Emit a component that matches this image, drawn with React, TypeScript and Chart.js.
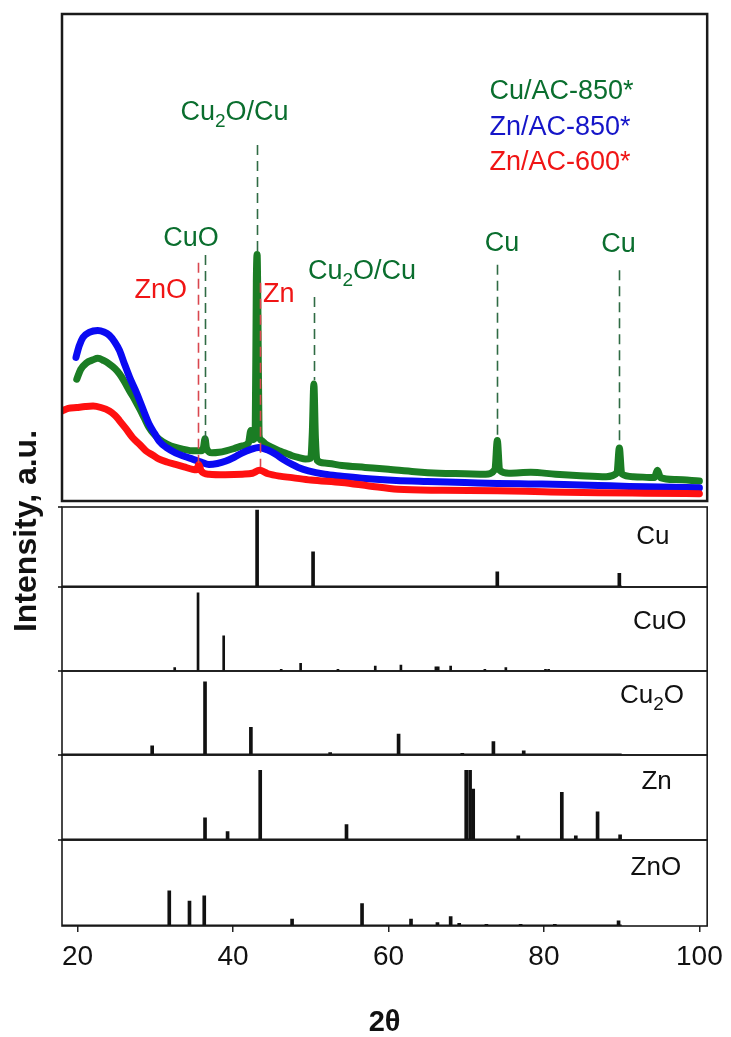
import React, { useEffect, useRef } from 'react';
import { Chart, registerables } from 'chart.js';

Chart.register(...registerables);

const FONT = '"Liberation Sans", Arial, Helvetica, sans-serif';

// ---------- Measured XRD patterns (top panel), [2θ, intensity a.u.] ----------
const cuAC850: [number, number][] = [
  [19.9, 25.0], [20.4, 27.0], [21.1, 28.3], [22.0, 29.0], [22.6, 29.3], [23.4, 28.8], [24.1, 28.1],
  [24.8, 27.2], [25.4, 26.1], [26.0, 24.6], [26.7, 22.6], [27.4, 20.7], [28.0, 18.9], [28.6, 17.0],
  [29.2, 15.1], [29.8, 13.8], [30.5, 12.7], [31.5, 11.7], [32.6, 11.0], [33.7, 10.6], [34.8, 10.3],
  [35.9, 10.3], [36.2, 11.0], [36.4, 12.8], [36.6, 10.8], [37.3, 9.9], [38.2, 10.0], [39.1, 10.3],
  [40.2, 10.8], [41.2, 11.3], [42.0, 12.0], [42.3, 14.5], [42.55, 12.6], [42.85, 13.2], [43.0, 45.0],
  [43.1, 50.6], [43.2, 40.0], [43.35, 13.5], [43.6, 12.5], [44.2, 11.7], [45.0, 11.0], [45.9, 10.3],
  [46.8, 9.8], [47.6, 9.3], [48.5, 8.9], [49.3, 8.6], [50.0, 8.8], [50.2, 14.0], [50.4, 24.0],
  [50.6, 13.0], [50.8, 8.4], [51.8, 7.8], [54.0, 7.3], [57.0, 6.9], [60.0, 6.5], [63.4, 6.0],
  [66.5, 5.7], [69.8, 5.6], [72.5, 5.5], [73.7, 6.5], [74.0, 12.4], [74.3, 6.3], [75.5, 5.7],
  [78.3, 5.9], [81.5, 5.5], [84.7, 5.2], [88.0, 5.0], [89.4, 5.8], [89.7, 10.9], [90.0, 5.6],
  [91.5, 5.0], [94.2, 4.8], [94.6, 6.3], [95.0, 4.8], [97.0, 4.4], [100.0, 4.1],
];

const znAC850: [number, number][] = [
  [19.8, 29.5], [20.2, 31.8], [20.7, 33.6], [21.5, 34.6], [22.6, 35.0], [23.4, 34.7], [24.1, 34.0],
  [24.8, 32.6], [25.4, 30.9], [26.0, 28.3], [26.7, 25.4], [27.4, 22.9], [28.0, 20.6], [28.6, 18.1],
  [29.2, 15.8], [29.9, 13.9], [30.5, 12.3], [31.5, 10.9], [32.6, 9.9], [33.7, 9.2], [34.8, 8.6],
  [35.9, 8.0], [36.9, 7.5], [38.0, 7.7], [39.1, 8.2], [40.2, 9.0], [41.2, 9.9], [42.3, 10.6],
  [43.3, 11.0], [44.4, 10.5], [45.5, 9.6], [46.5, 8.5], [47.6, 7.5], [48.4, 6.9], [49.7, 6.2],
  [51.8, 5.5], [54.0, 5.1], [57.0, 4.6], [61.0, 4.2], [65.0, 4.0], [69.8, 3.8], [74.0, 3.6],
  [78.0, 3.5], [82.6, 3.4], [87.0, 3.2], [91.0, 3.0], [95.0, 2.9], [100.0, 2.7],
];

const znAC600: [number, number][] = [
  [18.0, 18.5], [18.8, 19.0], [19.9, 19.2], [21.0, 19.4], [22.0, 19.5], [23.0, 19.2], [24.1, 18.5],
  [24.8, 17.6], [25.4, 16.5], [26.2, 14.9], [27.1, 13.0], [28.0, 11.6], [28.8, 10.3], [29.7, 9.4],
  [30.5, 8.6], [31.5, 8.0], [32.6, 7.5], [33.7, 7.0], [34.8, 6.5], [35.3, 6.4], [35.6, 7.5],
  [35.9, 6.2], [36.9, 5.5], [39.0, 5.4], [41.2, 5.5], [42.5, 5.7], [43.4, 6.3], [44.5, 5.6],
  [46.0, 5.1], [47.6, 4.8], [50.0, 4.3], [54.0, 3.8], [57.5, 3.1], [61.2, 2.4], [67.0, 2.2],
  [74.0, 2.1], [80.0, 1.9], [87.0, 1.7], [93.0, 1.6], [100.0, 1.5],
];

const sampleNames = ['Cu/AC-850*', 'Zn/AC-850*', 'Zn/AC-600*'];

// ---------- Reference patterns (lower panels): 2θ positions and relative intensities ----------
const refNames = ['Cu', 'CuO', 'Cu2O', 'Zn', 'ZnO'];
const cuPos = [43.1, 50.3, 74.0, 89.7];
const cuInt = [96, 44, 19, 17];
const cuoPos = [32.5, 35.5, 38.8, 46.2, 48.7, 53.5, 58.3, 61.6, 66.1, 66.4, 68.0, 72.4, 75.1, 80.2, 80.6];
const cuoInt = [4, 93, 42, 2, 9, 2, 6, 7, 5, 5, 6, 2, 4, 2, 2];
const cu2oPos = [29.6, 36.4, 42.3, 52.5, 61.3, 69.5, 73.5, 77.4];
const cu2oInt = [11, 87, 33, 3, 25, 2, 16, 5];
const znPos = [36.4, 39.3, 43.5, 54.6, 70.0, 70.5, 70.9, 76.7, 82.3, 84.1, 86.9, 89.8];
const znInt = [26, 10, 82, 18, 82, 82, 60, 5, 56, 5, 33, 6];
const znoPos = [31.8, 34.4, 36.3, 47.6, 56.6, 62.9, 66.3, 68.0, 69.1, 72.6, 77.0, 81.4, 89.6];
const znoInt = [41, 29, 35, 8, 26, 8, 4, 11, 3, 2, 2, 2, 6];
const refBaseRange = [18, 90];

const xTicks = [20, 40, 60, 80, 100];

// ---------- Peak assignments in the top panel ----------
const markText = ['Cu2O/Cu', 'CuO', 'ZnO', 'Zn', 'Cu2O/Cu', 'Cu', 'Cu'];
const markSample = [0, 0, 2, 2, 0, 0, 0];
const markLineX = [43.1, 36.4, 35.5, 43.5, 50.4, 74.0, 89.7];
const markLineTop = [73.1, 50.5, 48.9, 44.8, 41.9, 48.5, 47.4];
const markLineBottom = [50.5, 11.9, 7.8, 7.0, 24.8, 13.1, 11.5];
const markLabelX = [40.2, 34.6, 30.7, 45.9, 56.6, 74.6, 89.6];
const markLabelY = [80.3, 54.4, 43.7, 42.9, 47.6, 53.4, 53.2];
const legendX = 73.0;
const legendY = [84.6, 77.2, 70.0];
const refLabelX = [94.0, 94.9, 93.9, 94.5, 94.4];
const refLabelY = [66, 61, 73, 71, 70];

const LINE_COLORS = ['#1b7d24', '#0a0af2', '#ff1010'];
const TEXT_COLORS = ['#0a6e2e', '#1515c8', '#f01515'];
const DASH_COLORS = ['#2f6b44', '#2f6b44', '#d9474f'];

const refAxes = ['yCu', 'yCuO', 'yCu2O', 'yZn', 'yZnO'];
const refData = [
  [cuPos, cuInt], [cuoPos, cuoInt], [cu2oPos, cu2oInt], [znPos, znInt], [znoPos, znoInt],
];

function drawLabel(ctx: CanvasRenderingContext2D, text: string, cx: number, cy: number, size: number, color: string, align = 'center') {
  const parts: { t: string; sub: boolean }[] = [];
  for (let i = 0; i < text.length; i++) {
    const ch = text[i];
    const sub = /[0-9]/.test(ch) && i > 0 && /[A-Za-z]/.test(text[i - 1]);
    const last = parts[parts.length - 1];
    if (last && last.sub === sub) last.t += ch;
    else parts.push({ t: ch, sub });
  }
  const subSize = Math.round(size * 0.72);
  let total = 0;
  const widths = parts.map((p) => {
    ctx.font = `${p.sub ? subSize : size}px ${FONT}`;
    const w = ctx.measureText(p.t).width;
    total += w;
    return w;
  });
  let x = align === 'center' ? cx - total / 2 : align === 'right' ? cx - total : cx;
  const base = cy + size * 0.36;
  ctx.fillStyle = color;
  ctx.textAlign = 'left';
  ctx.textBaseline = 'alphabetic';
  parts.forEach((p, i) => {
    ctx.font = `${p.sub ? subSize : size}px ${FONT}`;
    ctx.fillText(p.t, x, p.sub ? base + size * 0.28 : base);
    x += widths[i];
  });
}

const annotate = {
  id: 'annotate',
  afterDatasetsDraw(chart: any) {
    const ctx: CanvasRenderingContext2D = chart.ctx;
    const xs = chart.scales.x;
    const top = chart.scales.yTop;
    const { left, right } = chart.chartArea;
    ctx.save();

    // dashed assignment lines
    ctx.setLineDash([10, 6]);
    markLineX.forEach((d, i) => {
      const px = Math.round(xs.getPixelForValue(d)) + 0.5;
      ctx.strokeStyle = DASH_COLORS[markSample[i]];
      ctx.lineWidth = 1.6;
      ctx.beginPath();
      ctx.moveTo(px, top.getPixelForValue(markLineTop[i]));
      ctx.lineTo(px, top.getPixelForValue(markLineBottom[i]));
      ctx.stroke();
    });
    ctx.setLineDash([]);

    // peak labels
    markText.forEach((t, i) => {
      drawLabel(ctx, t, xs.getPixelForValue(markLabelX[i]), top.getPixelForValue(markLabelY[i]), 27, TEXT_COLORS[markSample[i]]);
    });
    // sample legend
    sampleNames.forEach((t, i) => {
      drawLabel(ctx, t, xs.getPixelForValue(legendX), top.getPixelForValue(legendY[i]), 27, TEXT_COLORS[i], 'left');
    });

    // frames
    ctx.strokeStyle = '#1a1a1a';
    ctx.lineWidth = 2.5;
    ctx.strokeRect(left, top.top, right - left, top.bottom - top.top);
    ctx.lineWidth = 1.6;
    refAxes.forEach((id, i) => {
      const s = chart.scales[id];
      ctx.strokeRect(left, s.top, right - left, s.bottom - s.top);
      ctx.beginPath();
      ctx.moveTo(left - 4, s.top);
      ctx.lineTo(left, s.top);
      ctx.stroke();
      drawLabel(ctx, refNames[i], xs.getPixelForValue(refLabelX[i]), s.getPixelForValue(refLabelY[i]), 26, '#111');
    });

    // y-axis title
    ctx.save();
    ctx.translate(27, 531);
    ctx.rotate(-Math.PI / 2);
    ctx.font = `bold 32px ${FONT}`;
    ctx.fillStyle = '#111';
    ctx.textAlign = 'center';
    ctx.textBaseline = 'middle';
    ctx.fillText('Intensity, a.u.', 0, 0);
    ctx.restore();

    ctx.restore();
  },
};

export default function App() {
  const ref = useRef<HTMLCanvasElement>(null);

  useEffect(() => {
    if (!ref.current) return;
    const topSeries = [znAC600, znAC850, cuAC850];
    const topColors = [LINE_COLORS[2], LINE_COLORS[1], LINE_COLORS[0]];
    const datasets: any[] = topSeries.map((s, i) => ({
      type: 'line',
      label: sampleNames[2 - i],
      data: s.map(([x, y]) => ({ x, y })),
      yAxisID: 'yTop',
      borderColor: topColors[i],
      backgroundColor: topColors[i],
      borderWidth: 7,
      borderJoinStyle: 'round',
      borderCapStyle: 'round',
      pointRadius: 0,
      cubicInterpolationMode: 'monotone',
      fill: false,
    }));
    refData.forEach(([pos, inten], i) => {
      datasets.push({
        type: 'bar',
        label: refNames[i],
        data: pos.map((p, j) => ({ x: p, y: inten[j] })),
        yAxisID: refAxes[i],
        backgroundColor: '#111',
        barThickness: i === 1 ? 2 : 3,
        grouped: false,
      });
      if (i !== 1) {
        datasets.push({
          type: 'line',
          label: refNames[i] + ' base',
          data: refBaseRange.map((x) => ({ x, y: 0 })),
          yAxisID: refAxes[i],
          borderColor: '#111',
          borderWidth: 3,
          pointRadius: 0,
        });
      }
    });

    const yBase = { type: 'linear', display: false, position: 'left', stack: 'panels', min: 0, max: 100, offset: false };

    const chart = new Chart(ref.current, {
      type: 'line',
      data: { datasets },
      options: {
        responsive: false,
        animation: false,
        devicePixelRatio: 1,
        layout: { padding: { left: 62, right: 20, top: 14, bottom: 0 } },
        plugins: { legend: { display: false }, tooltip: { enabled: false }, title: { display: false } },
        scales: {
          x: {
            type: 'linear',
            position: 'bottom',
            min: 18,
            max: 101,
            offset: false,
            afterBuildTicks: (s: any) => { s.ticks = xTicks.map((v) => ({ value: v })); },
            afterFit: (s: any) => { s.height = 111; },
            grid: { display: true, offset: false, drawOnChartArea: false, drawTicks: true, tickLength: 6, color: '#222', lineWidth: 1.5 },
            border: { display: false },
            ticks: { font: { family: FONT, size: 28 }, color: '#111', padding: 8, maxRotation: 0, autoSkip: false, callback: (v: any) => String(v) },
            title: { display: true, text: '2θ', font: { family: FONT, size: 29, weight: 'bold', lineHeight: 1 }, color: '#111', padding: 0 },
          },
          yZnO: { ...yBase, stackWeight: 86 },
          yZn: { ...yBase, stackWeight: 85 },
          yCu2O: { ...yBase, stackWeight: 84 },
          yCuO: { ...yBase, stackWeight: 84 },
          yCu: { ...yBase, stackWeight: 80 },
          yGap: { ...yBase, stackWeight: 6 },
          yTop: { ...yBase, stackWeight: 487 },
        } as any,
      },
      plugins: [annotate],
    } as any);
    return () => chart.destroy();
  }, []);

  return (
    <div style={{ position: 'fixed', left: 0, top: 0, width: 731, height: 1037, background: '#fff' }}>
      <canvas ref={ref} width={731} height={1037} style={{ display: 'block' }} />
    </div>
  );
}
